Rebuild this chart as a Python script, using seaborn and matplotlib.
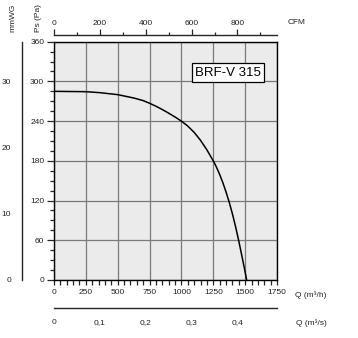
import numpy as np
import pandas as pd
import matplotlib
matplotlib.use("Agg")
import matplotlib.pyplot as plt
import seaborn as sns
from matplotlib.ticker import MultipleLocator, FixedLocator

# ---- data ----
q_m3h = [0, 250, 361, 500, 625, 700, 750, 800, 850, 900, 950, 1000, 1050, 1100,
         1150, 1200, 1250, 1275, 1300, 1325, 1350, 1375, 1400, 1425, 1450,
         1475, 1500, 1512]
ps_pa = [285, 284.5, 283, 280, 275, 271, 267, 262.5, 257.5, 252, 246.2, 240,
         232.5, 223, 211, 196.5, 180, 170.5, 159.5, 147, 133, 117.5, 100, 80.5,
         59, 35.75, 12, 0]
model_label = "BRF-V 315"

q_ticks = [0, 250, 500, 750, 1000, 1250, 1500, 1750]
pa_ticks = [0, 60, 120, 180, 240, 300, 360]
mmwg_ticks = [0, 10, 20, 30]
cfm_ticks = [0, 200, 400, 600, 800]
m3s_ticks = [0, 0.1, 0.2, 0.3, 0.4]
m3s_labels = ["0", "0,1", "0,2", "0,3", "0,4"]

df = pd.DataFrame({"Q": q_m3h, "Ps": ps_pa})

sns.set_style("white")
plt.rcParams["font.family"] = ["Liberation Sans", "DejaVu Sans"]

W, H = 358, 338
fig = plt.figure(figsize=(W / 100, H / 100), dpi=100)

def fx(px):
    return px / W

def fy(py):
    return 1 - py / H

L, R, T, B = 54, 277, 41.7, 280
tc = "#222222"
fs = 6

# main axes
ax = fig.add_axes([fx(L), fy(B), fx(R) - fx(L), fy(T) - fy(B)])
ax.set_facecolor("#ebebeb")
sns.lineplot(data=df, x="Q", y="Ps", ax=ax, color="black", linewidth=1.1,
             sort=False, estimator=None)
ax.set_xlim(0, 1750)
ax.set_ylim(0, 360)
ax.set_xticks(q_ticks)
ax.set_yticks(pa_ticks)
ax.xaxis.set_minor_locator(MultipleLocator(50))
ax.yaxis.set_minor_locator(MultipleLocator(15))
ax.grid(True, which="major", color="#7a7a7a", linewidth=0.9)
ax.set_axisbelow(True)
ax.set_xlabel("")
ax.set_ylabel("")
for s in ax.spines.values():
    s.set_color("black")
    s.set_linewidth(1.0)
ax.tick_params(axis="y", which="major", direction="out", length=5, width=0.9,
               labelsize=fs, labelcolor=tc, pad=2, left=True)
ax.tick_params(axis="y", which="minor", direction="out", length=3, width=0.9, left=True)
ax.tick_params(axis="x", which="both", direction="out", length=3.6, width=0.9,
               labelsize=fs, labelcolor=tc, pad=3, bottom=True)

ax.text(0.78, 0.87, model_label, transform=ax.transAxes, ha="center", va="center",
        fontsize=9.5, color="black",
        bbox=dict(boxstyle="square,pad=0.25", facecolor="white", edgecolor="black", linewidth=0.9))

# top CFM axis
axt = fig.add_axes([fx(L), fy(35), fx(R) - fx(L), 0.0001])
axt.set_xlim(0, 1750 / 1.8)
axt.set_yticks([])
axt.patch.set_visible(False)
for k, s in axt.spines.items():
    s.set_visible(k == "top")
axt.spines["top"].set_linewidth(1.0)
axt.xaxis.tick_top()
axt.set_xticks(cfm_ticks)
axt.xaxis.set_minor_locator(FixedLocator([100, 300, 500, 700, 900]))
axt.tick_params(axis="x", which="major", direction="out", length=4.5, width=0.9,
                labelsize=fs, labelcolor=tc, pad=1.5)
axt.tick_params(axis="x", which="minor", direction="out", length=2.5, width=0.9)

# bottom m3/s axis
axb = fig.add_axes([fx(L), fy(307.7), fx(R) - fx(L), 0.0001])
axb.set_xlim(0, 1750 / 3600)
axb.set_yticks([])
axb.patch.set_visible(False)
for k, s in axb.spines.items():
    s.set_visible(k == "bottom")
axb.spines["bottom"].set_linewidth(1.0)
axb.set_xticks(m3s_ticks)
axb.set_xticklabels(m3s_labels)
axb.xaxis.set_minor_locator(FixedLocator([0.05, 0.15, 0.25, 0.35, 0.45]))
axb.tick_params(axis="x", which="major", direction="out", length=6, width=0.9,
                labelsize=fs, labelcolor=tc, pad=2)
axb.tick_params(axis="x", which="minor", direction="out", length=3, width=0.9)

# left mmWG axis
axl = fig.add_axes([fx(22), fy(B), 0.0001, fy(T) - fy(B)])
axl.set_ylim(0, 36)
axl.set_xticks([])
axl.patch.set_visible(False)
for k, s in axl.spines.items():
    s.set_visible(k == "left")
axl.spines["left"].set_linewidth(1.0)
axl.set_yticks(mmwg_ticks)
axl.yaxis.set_minor_locator(FixedLocator([5, 15, 25, 35]))
axl.tick_params(axis="y", which="major", direction="out", length=6, width=0.9,
                labelsize=fs, labelcolor=tc, pad=2)
axl.tick_params(axis="y", which="minor", direction="out", length=3.5, width=0.9)

# axis titles
fig.text(fx(12.5), fy(18), "mmWG", rotation=90, ha="center", va="center", fontsize=fs, color=tc)
fig.text(fx(38.5), fy(18.5), "Ps (Pa)", rotation=90, ha="center", va="center", fontsize=fs, color=tc)
fig.text(fx(288), fy(23), "CFM", ha="left", va="center", fontsize=fs, color=tc)
fig.text(fx(295), fy(295), "Q (m³/h)", ha="left", va="center", fontsize=fs, color=tc)
fig.text(fx(296), fy(323), "Q (m³/s)", ha="left", va="center", fontsize=fs, color=tc)

fig.savefig("out.png", dpi=100)
